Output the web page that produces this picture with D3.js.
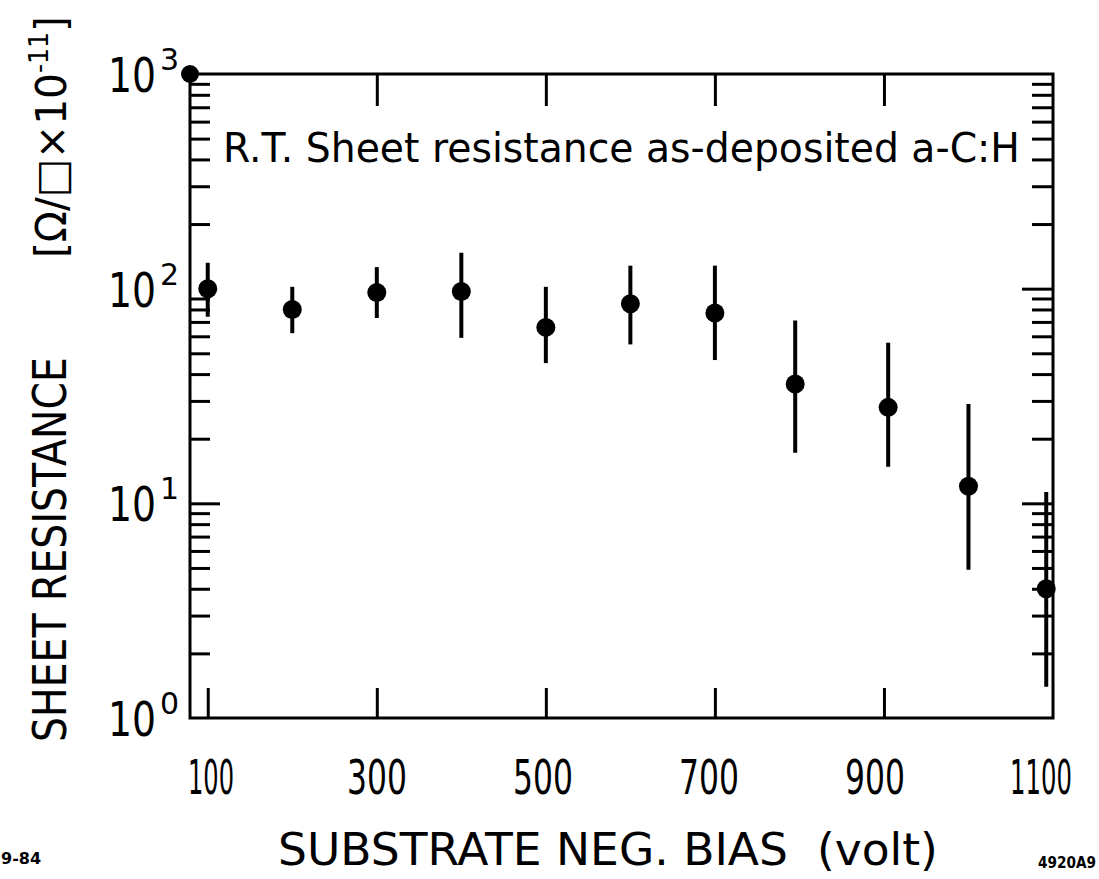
<!DOCTYPE html>
<html>
<head>
<meta charset="utf-8">
<script src="https://cdn.jsdelivr.net/npm/d3@7"></script>
<style>
  html, body { margin: 0; padding: 0; background: #fff; }
  svg text { font-family: "DejaVu Sans", sans-serif; fill: #000; }
</style>
</head>
<body>
<svg width="1099" height="879"></svg>
<script>
// substrate bias (volt) for each measured film
const biasVolts = [100, 200, 300, 400, 500, 600, 700, 795, 905, 1000, 1092]
// sheet resistance, in units of ohm/square x 1e-11
const sheetRes = [100, 80, 96, 97, 66, 85, 77, 36, 28, 12, 4.0]
// error bar top and bottom
const resHigh = [132, 102, 126, 147, 102, 128, 128, 71, 56, 29, 11.3]
const resLow = [74, 62, 73, 59, 45, 55, 46.5, 17.2, 14.8, 4.9, 1.4]
// stray pen dot sitting on the top left corner of the frame
const cornerBias = [79]
const cornerRes = [1000]

// tick values
const xTickValues = [100, 300, 500, 700, 900, 1100]
const xTopTicks = [300, 500, 700, 900]
const xBottomTicks = [100, 300, 500, 700, 900]
const yDecades = [1, 10, 100, 1000]
const yExponents = ['0', '1', '2', '3']
const yMinorMult = [2, 3, 4, 5, 6, 7, 8, 9]

const svg = d3.select('svg')

// scales
const xScale = d3.scaleLinear()
  .domain([79, 1100])
  .range([190, 1053])

// the hand lettered labels sit a little left of their ticks
const xLabelScale = d3.scaleLinear()
  .domain([100, 1100])
  .range([211, 1041])

const yScale = d3.scaleLog()
  .domain([1, 1000])
  .range([718, 74])

const x0 = xScale.range()[0]
const x1 = xScale.range()[1]
const y0 = yScale.range()[1]
const y1 = yScale.range()[0]

// squeeze a text sideways so it takes the given width (lettering is narrow)
const squeeze = function (sel, x, y, width, rotate) {
  sel.each(function () {
    const natural = this.getComputedTextLength()
    const s = width / natural
    d3.select(this).attr('transform',
      `translate(${x},${y})` + (rotate ? ` rotate(${rotate})` : '') + ` scale(${s},1)`)
  })
}

// minor log ticks for every decade
const minorValues = []
yDecades.slice(0, 3).forEach(d => {
  yMinorMult.forEach(m => minorValues.push(d * m))
})

// frame
svg.append('rect')
  .attr('x', x0)
  .attr('y', y0)
  .attr('width', x1 - x0)
  .attr('height', y1 - y0)
  .attr('fill', 'none')
  .attr('stroke', '#000')
  .attr('stroke-width', 3)

// axes, ticks drawn inward
const leftAxis = d3.axisRight(yScale)
  .tickValues(minorValues)
  .tickSize(20)
  .tickFormat('')
const rightAxis = d3.axisLeft(yScale)
  .tickValues(minorValues)
  .tickSize(21)
  .tickFormat('')
const leftMajor = d3.axisRight(yScale)
  .tickValues([10])
  .tickSize(30)
  .tickFormat('')
const rightMajor = d3.axisLeft(yScale)
  .tickValues([10, 100])
  .tickSize(31)
  .tickFormat('')
const topAxis = d3.axisBottom(xScale)
  .tickValues(xTopTicks)
  .tickSize(32)
  .tickFormat('')
const bottomAxis = d3.axisTop(xScale)
  .tickValues(xBottomTicks)
  .tickSize(30)
  .tickFormat('')

svg.append('g').attr('class', 'ax').attr('transform', `translate(${x0},0)`).call(leftAxis)
svg.append('g').attr('class', 'ax').attr('transform', `translate(${x0},0)`).call(leftMajor)
svg.append('g').attr('class', 'ax').attr('transform', `translate(${x1},0)`).call(rightAxis)
svg.append('g').attr('class', 'ax').attr('transform', `translate(${x1},0)`).call(rightMajor)
svg.append('g').attr('class', 'ax').attr('transform', `translate(0,${y0})`).call(topAxis)
svg.append('g').attr('class', 'ax').attr('transform', `translate(0,${y1})`).call(bottomAxis)

svg.selectAll('g.ax path.domain').remove()
svg.selectAll('g.ax line')
  .attr('stroke', '#000')
  .attr('stroke-width', 3)

// x tick labels
svg.append('g')
  .selectAll('text')
  .data(xTickValues)
  .enter()
  .append('text')
  .attr('text-anchor', 'middle')
  .attr('font-size', 48)
  .text(d => d)
  .each(function (d) {
    squeeze(d3.select(this), xLabelScale(d), 794, d === 100 ? 46 : (d === 1100 ? 62 : 60))
  })

// y tick labels: 10 with exponent
const yLab = svg.append('g')
yLab.selectAll('text.base')
  .data(yDecades)
  .enter()
  .append('text')
  .attr('class', 'base')
  .attr('font-size', 48)
  .text('10')
  .each(function (d) {
    squeeze(d3.select(this), 108, yScale(d) + 18, 48)
  })
yLab.selectAll('text.exp')
  .data(yDecades)
  .enter()
  .append('text')
  .attr('class', 'exp')
  .attr('x', 160)
  .attr('y', d => yScale(d) - 4)
  .attr('font-size', 30)
  .text((d, i) => yExponents[i])

// error bars
const points = biasVolts.map((v, i) => ({ v, r: sheetRes[i], hi: resHigh[i], lo: resLow[i] }))

svg.append('g')
  .selectAll('line')
  .data(points)
  .enter()
  .append('line')
  .attr('x1', d => xScale(d.v))
  .attr('x2', d => xScale(d.v))
  .attr('y1', d => yScale(d.hi))
  .attr('y2', d => yScale(d.lo))
  .attr('stroke', '#000')
  .attr('stroke-width', 4)

svg.append('g')
  .selectAll('circle')
  .data(points)
  .enter()
  .append('circle')
  .attr('cx', d => xScale(d.v))
  .attr('cy', d => yScale(d.r))
  .attr('r', 9.5)
  .attr('fill', '#000')

svg.append('g')
  .selectAll('circle')
  .data(cornerBias)
  .enter()
  .append('circle')
  .attr('cx', d => xScale(d))
  .attr('cy', (d, i) => yScale(cornerRes[i]))
  .attr('r', 9)
  .attr('fill', '#000')

// inside caption
svg.append('text')
  .attr('font-size', 40)
  .text('R.T. Sheet resistance as-deposited a-C:H')
  .call(squeeze, 223, 162, 797)

// x axis title
svg.append('text')
  .attr('font-size', 44)
  .attr('xml:space', 'preserve')
  .text('SUBSTRATE NEG. BIAS  (volt)')
  .call(squeeze, 278, 865, 660)

// y axis title, read bottom to top
svg.append('text')
  .attr('font-size', 46)
  .text('SHEET RESISTANCE')
  .call(squeeze, 66, 742, 385, -90)

const unitLab = svg.append('text')
  .attr('font-size', 42)
unitLab.append('tspan').text('[Ω/□×10')
unitLab.append('tspan').attr('font-size', 26).attr('dy', -18).text('-11')
unitLab.append('tspan').attr('dy', 18).text(']')
unitLab.call(squeeze, 66, 258, 242, -90)

// corner notes
svg.append('text')
  .attr('x', 1)
  .attr('y', 864)
  .attr('font-size', 16)
  .attr('font-weight', 'bold')
  .text('9-84')

svg.append('text')
  .attr('font-size', 15)
  .attr('font-weight', 'bold')
  .text('4920A9')
  .call(squeeze, 1038, 868, 58)
</script>
</body>
</html>
